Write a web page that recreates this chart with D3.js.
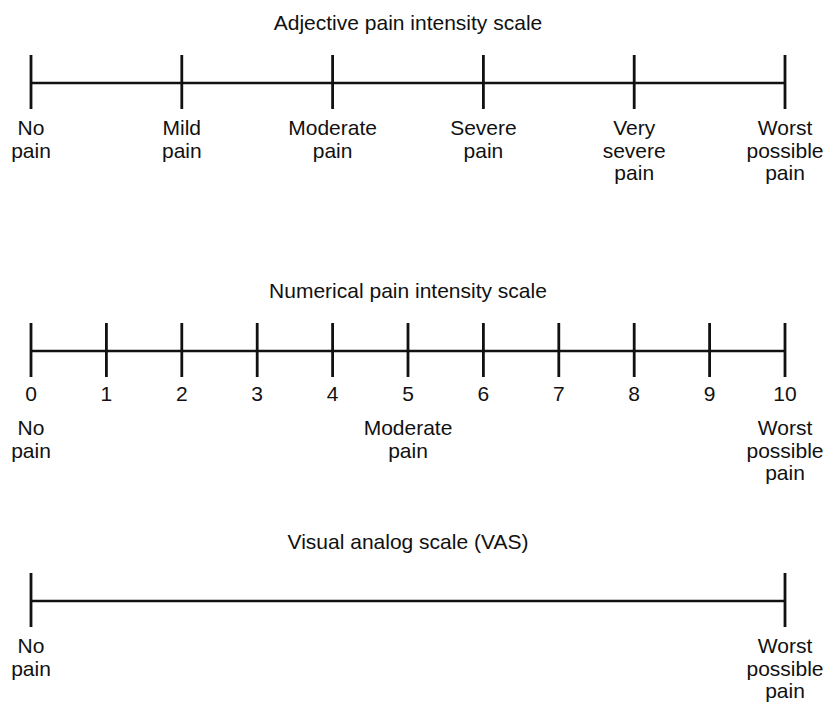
<!DOCTYPE html>
<html>
<head>
<meta charset="utf-8">
<script src="https://cdn.jsdelivr.net/npm/d3@7"></script>
<style>
  html, body { margin: 0; padding: 0; background: #fff; }
  text { font-family: "Liberation Sans", Arial, Helvetica, sans-serif; font-size: 21px; fill: #111; }
</style>
</head>
<body>
<svg id="chart" width="823" height="702"></svg>
<script>
// ---- data ----
const scaleTitles = ["Adjective pain intensity scale", "Numerical pain intensity scale", "Visual analog scale (VAS)"];
const adjectiveLabels = [["No","pain"],["Mild","pain"],["Moderate","pain"],["Severe","pain"],["Very","severe","pain"],["Worst","possible","pain"]];
const numericTicks = [0,1,2,3,4,5,6,7,8,9,10];
const numericAnchors = [{v:0, label:["No","pain"]},{v:5, label:["Moderate","pain"]},{v:10, label:["Worst","possible","pain"]}];
const vasAnchors = [{v:0, label:["No","pain"]},{v:1, label:["Worst","possible","pain"]}];

// ---- layout ----
const svg = d3.select("#chart");
const x0 = 31, x1 = 785;
const lineH = 22.5;

function drawScale(g, scale, tickVals, titleY, lineY) {
  g.append("text").attr("x", (x0 + x1) / 2).attr("y", titleY)
    .attr("text-anchor", "middle").text(g.datum());
  g.append("line").attr("x1", scale(scale.domain()[0])).attr("x2", scale(scale.domain()[1]))
    .attr("y1", lineY).attr("y2", lineY)
    .attr("stroke", "#111").attr("stroke-width", 2.6);
  g.selectAll("line.tick").data(tickVals).join("line").attr("class", "tick")
    .attr("x1", d => scale(d)).attr("x2", d => scale(d))
    .attr("y1", lineY - 28).attr("y2", lineY + 26)
    .attr("stroke", "#111").attr("stroke-width", 2.8);
}

function drawLabels(g, items, scale, baseY) {
  const t = g.selectAll("text.lbl").data(items).join("text").attr("class", "lbl")
    .attr("text-anchor", "middle")
    .attr("transform", d => `translate(${scale(d.v)},${baseY})`);
  t.selectAll("tspan").data(d => d.label).join("tspan")
    .attr("x", 0).attr("y", (d, i) => i * lineH).text(d => d);
}

// Adjective scale
const adjScale = d3.scaleLinear().domain([0, adjectiveLabels.length - 1]).range([x0, x1]);
const gA = svg.append("g").datum(scaleTitles[0]);
drawScale(gA, adjScale, d3.range(adjectiveLabels.length), 30, 83);
drawLabels(gA, adjectiveLabels.map((l, i) => ({v: i, label: l})), adjScale, 135);

// Numerical scale
const numScale = d3.scaleLinear().domain([0, 10]).range([x0, x1]);
const gN = svg.append("g").datum(scaleTitles[1]);
drawScale(gN, numScale, numericTicks, 298, 351);
gN.selectAll("text.num").data(numericTicks).join("text").attr("class", "num")
  .attr("text-anchor", "middle").attr("x", d => numScale(d)).attr("y", 401).text(d => d);
drawLabels(gN, numericAnchors, numScale, 435);

// VAS
const vasScale = d3.scaleLinear().domain([0, 1]).range([x0, x1]);
const gV = svg.append("g").datum(scaleTitles[2]);
drawScale(gV, vasScale, [0, 1], 549, 601);
drawLabels(gV, vasAnchors, vasScale, 653);
</script>
</body>
</html>
